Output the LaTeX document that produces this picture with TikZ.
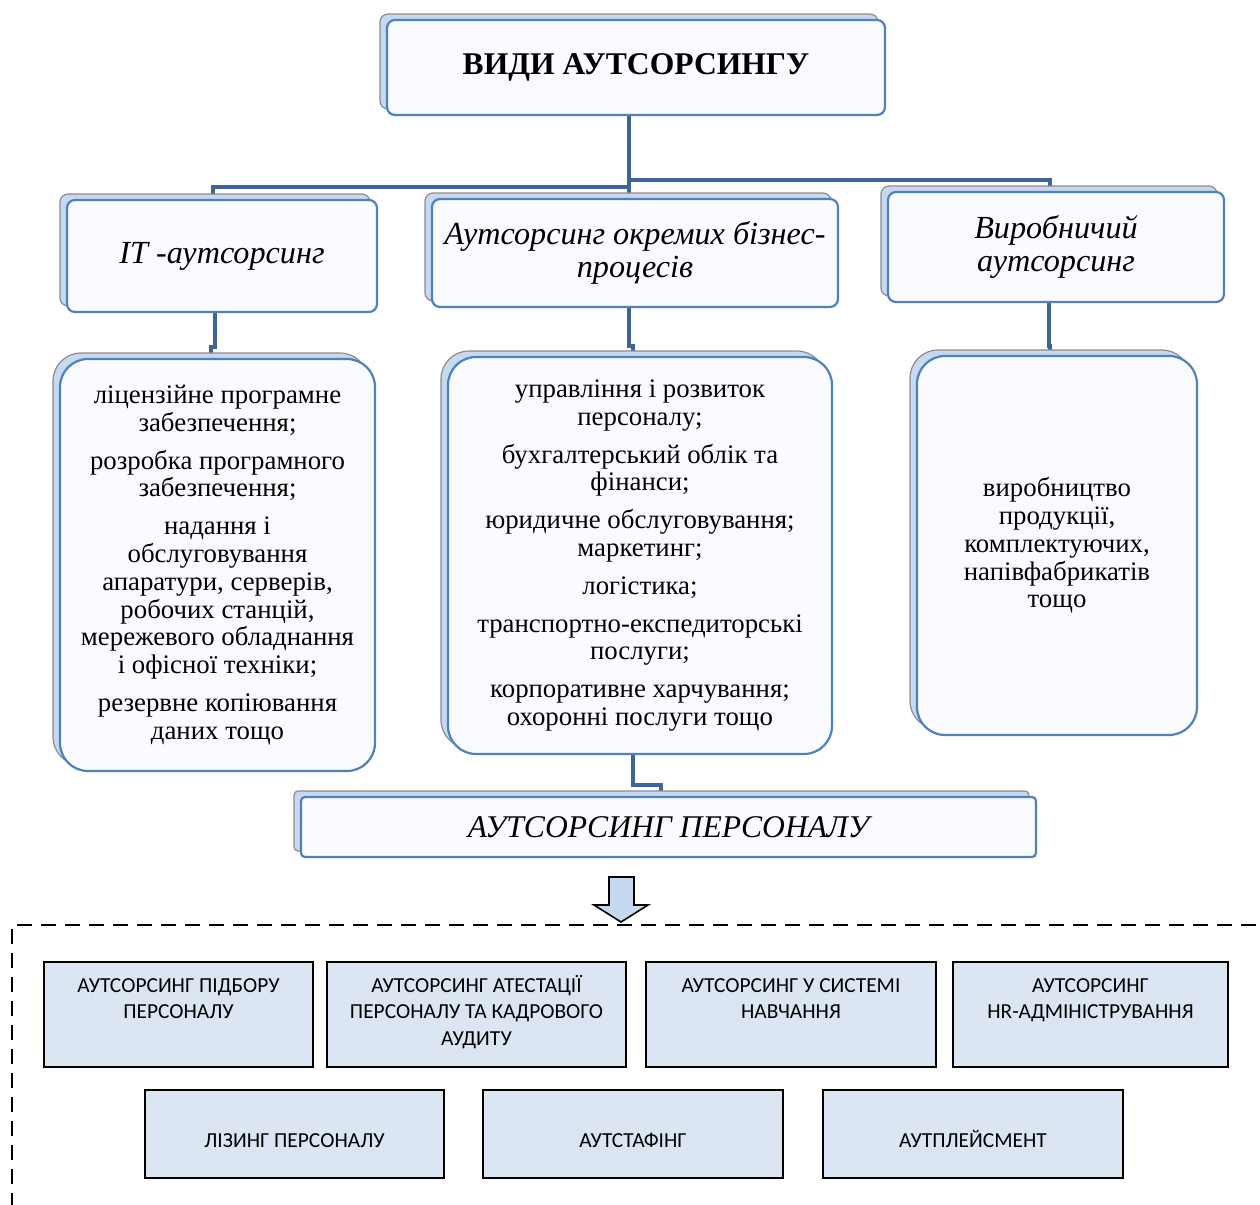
\documentclass[tikz,border=0pt]{standalone}
\usepackage{fontspec}
\setmainfont{Liberation Serif}
\newfontfamily\calibrifont{Carlito}
\usetikzlibrary{shadows}

\definecolor{boxblue}{RGB}{79,129,189}
\definecolor{linkblue}{RGB}{62,101,152}
\definecolor{backblue}{RGB}{198,217,241}
\definecolor{paleblue}{RGB}{250,251,254}
\definecolor{hrfill}{RGB}{220,230,242}

\pgfdeclarelayer{background}
\pgfsetlayers{background,main}

\tikzset{
  card/.style={draw=boxblue, line width=1.1pt, fill=paleblue, rounded corners=4pt,
    inner sep=0pt, align=center,
    copy shadow={shadow xshift=-3.5pt, shadow yshift=3pt, fill=backblue, draw=gray!90, line width=0.6pt}},
  listcard/.style={card, rounded corners=14pt, font=\fontsize{13.4}{13.9}\selectfont},
  kindtext/.style={font=\itshape\fontsize{16.1}{16.5}\selectfont},
  hrbox/.style={draw=black, line width=1pt, fill=hrfill, inner sep=0pt,
    font=\calibrifont\fontsize{10.7}{13.25}\selectfont},
  conn/.style={draw=linkblue, line width=2pt},
  frame/.style={draw=black, line width=1pt, dash pattern=on 7.5pt off 4.5pt},
  arrowfill/.style={draw=black, line width=0.8pt, fill=backblue, line join=miter}
}

\begin{document}
\begin{tikzpicture}[x=0.5pt, y=-0.5pt]
    \useasboundingbox (0,0) rectangle (1260,1205);

    \node[card, minimum width=249pt, minimum height=47.5pt,
      font=\bfseries\fontsize{15.8}{18}\selectfont] (title) at (636,67.5) {ВИДИ АУТСОРСИНГУ};

    \node[card, kindtext, minimum width=155pt, minimum height=56pt] (it) at (222,256) {IT -аутсорсинг};
    \node[card, kindtext, minimum width=203pt, minimum height=54pt] (biz) at (635,253) {Аутсорсинг окремих бізнес-\\процесів};
    \node[card, kindtext, minimum width=168pt, minimum height=55pt] (prod) at (1056,247) {Виробничий\\аутсорсинг};

    \node[listcard, minimum width=157.5pt, minimum height=206pt] (itlist) at (217.5,565)
      {ліцензійне програмне\\забезпечення;\\[5pt]розробка програмного\\забезпечення;\\[5pt]надання і\\обслуговування\\апаратури, серверів,\\робочих станцій,\\мережевого обладнання\\і офісної техніки;\\[5pt]резервне копіювання\\даних тощо};
    \node[listcard, minimum width=192pt, minimum height=198.5pt] (bizlist) at (640,555.5)
      {управління і розвиток\\персоналу;\\[5pt]бухгалтерський облік та\\фінанси;\\[5pt]юридичне обслуговування;\\маркетинг;\\[5pt]логістика;\\[5pt]транспортно-експедиторські\\послуги;\\[5pt]корпоративне харчування;\\охоронні послуги тощо};
    \node[listcard, minimum width=140pt, minimum height=189.5pt] (prodlist) at (1057,545.5)
      {виробництво\\продукції,\\комплектуючих,\\напівфабрикатів\\тощо};

    \node[card, rounded corners=2pt, minimum width=367.5pt, minimum height=30pt,
      font=\itshape\fontsize{15.8}{18}\selectfont] (staff) at (668.5,827) {АУТСОРСИНГ ПЕРСОНАЛУ};

    \coordinate (hub) at (629,184);
    \coordinate (itbend) at (213,187);
    \coordinate (prodbend) at (1050,180);
    \coordinate (itjog) at (211,347);
    \coordinate (bizjog) at (633,346);
    \coordinate (prodjog) at (1050,346);
    \coordinate (staffjog) at (661,785);

    \begin{pgfonlayer}{background}
      \draw[conn] (title.south -| hub) -- (hub |- biz.north);
      \draw[conn] (hub |- itbend) -| (it.north -| itbend);
      \draw[conn] (hub |- prodbend) -| (prod.north -| prodbend);
      \draw[conn] ([xshift=-3.5pt]it.south) |- (itjog) -- (itlist.north -| itjog);
      \draw[conn] ([xshift=-3pt]biz.south) |- (bizjog) -- (bizlist.north -| bizjog);
      \draw[conn] ([xshift=-3.5pt]prod.south) |- (prodjog) -- (prodlist.north -| prodjog);
      \draw[conn] ([xshift=-3.5pt]bizlist.south) |- (staffjog) -- (staff.north -| staffjog);
    \end{pgfonlayer}

    \draw[arrowfill] (609,877) -- (634,877) -- (634,905) -- (648,905) -- (621,922) -- (594,905) -- (609,905) -- cycle;

    \draw[frame] (1280,925) -- (12,925) -- (12,1225);

    \node[hrbox] (select) at (178.5,1014.5)
      {\parbox[c][52.5pt][t]{134.5pt}{\centering\rule{0pt}{15pt}АУТСОРСИНГ ПІДБОРУ\\ПЕРСОНАЛУ}};
    \node[hrbox] (audit) at (476.5,1014.5)
      {\parbox[c][52.5pt][t]{149.5pt}{\centering\rule{0pt}{15pt}АУТСОРСИНГ АТЕСТАЦІЇ\\ПЕРСОНАЛУ ТА КАДРОВОГО\\АУДИТУ}};
    \node[hrbox] (train) at (791,1014.5)
      {\parbox[c][52.5pt][t]{145pt}{\centering\rule{0pt}{15pt}АУТСОРСИНГ У СИСТЕМІ\\НАВЧАННЯ}};
    \node[hrbox] (hradmin) at (1090.5,1014.5)
      {\parbox[c][52.5pt][t]{137.5pt}{\centering\rule{0pt}{15pt}АУТСОРСИНГ\\HR-АДМІНІСТРУВАННЯ}};

    \node[hrbox] (leasing) at (294.5,1134)
      {\parbox[c][44pt][t]{149.5pt}{\centering\rule{0pt}{28.5pt}ЛІЗИНГ ПЕРСОНАЛУ}};
    \node[hrbox] (outstaff) at (633,1134)
      {\parbox[c][44pt][t]{150pt}{\centering\rule{0pt}{28.5pt}АУТСТАФІНГ}};
    \node[hrbox] (outplace) at (973,1134)
      {\parbox[c][44pt][t]{150pt}{\centering\rule{0pt}{28.5pt}АУТПЛЕЙСМЕНТ}};
\end{tikzpicture}
\end{document}
